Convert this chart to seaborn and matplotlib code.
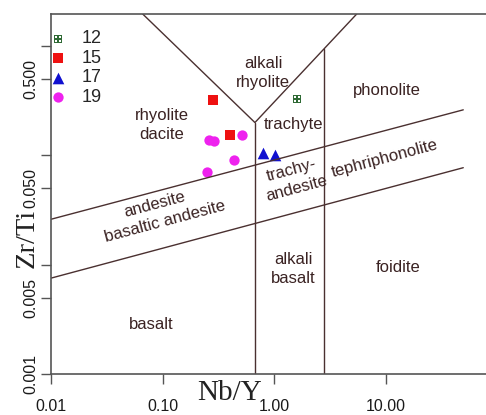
import numpy as np
import pandas as pd
import matplotlib
matplotlib.use("Agg")
import matplotlib.pyplot as plt
import seaborn as sns

# ---- data ----
groups = ["12", "15", "17", "19"]
x_12 = [1.61]
y_12 = [0.324]
x_15 = [0.284, 0.402]
y_15 = [0.318, 0.153]
x_17 = [0.798, 1.01]
y_17 = [0.106, 0.1007]
x_19 = [0.259, 0.289, 0.509, 0.438, 0.248]
y_19 = [0.138, 0.136, 0.152, 0.0897, 0.0703]

# field boundaries
upper_x = [0.01, 49.0]
upper_y = [0.026, 0.26]
lower_x = [0.01, 49.0]
lower_y = [0.00754, 0.077]
v_x = [0.0665, 0.671, 5.46]
v_y = [1.95, 0.199, 1.95]
vl_x = [0.671, 0.671]
vl_y = [0.001, 0.199]
vr_x = [2.8, 2.8]
vr_y = [0.001, 0.942]

field_names = ["alkali\nrhyolite", "phonolite", "trachyte", "rhyolite\ndacite",
               "trachy-\nandesite", "tephriphonolite", "andesite", "basaltic andesite",
               "alkali\nbasalt", "foidite", "basalt"]
field_x = [0.793, 10.1, 1.48, 0.099, 1.50, 9.77, 0.0857, 0.105, 1.48, 12.9, 0.080]
field_y = [0.565, 0.389, 0.193, 0.189, 0.0608, 0.094, 0.0352, 0.0248, 0.00917, 0.00942, 0.00282]
field_rot = [0, 0, 0, 0, 15, 15, 15, 15, 0, 0, 0]

xticks = [0.01, 0.1, 1.0, 10.0]
xticklabels = ["0.01", "0.10", "1.00", "10.00"]
yticks = [0.001, 0.005, 0.05, 0.5]
yticklabels = ["0.001", "0.005", "0.050", "0.500"]
yminor = [0.01, 0.1, 1.0]

# ---- figure ----
sns.set_style("white")
plt.rcParams["font.family"] = ["Liberation Sans", "DejaVu Sans"]

W, H = 486, 415
fig = plt.figure(figsize=(W / 100, H / 100), dpi=100)
left = 50.7 / W
bottom = 1 - 374.3 / H
top = 1 - 14 / H
ax = fig.add_axes([left, bottom, 1 - left, top - bottom])
ax.set_xscale("log")
ax.set_yscale("log")
ax.set_xlim(0.01, 10 ** (-2 + (W - 50.7) / 111.8))
ax.set_ylim(0.001, 1.95)

line_c = "#4a3030"
text_c = "#3a2222"
for xs, ys in [(upper_x, upper_y), (lower_x, lower_y), (v_x, v_y), (vl_x, vl_y), (vr_x, vr_y)]:
    sns.lineplot(x=xs, y=ys, ax=ax, color=line_c, lw=1.0, sort=False, estimator=None)

for name, fx, fy, r in zip(field_names, field_x, field_y, field_rot):
    ax.text(fx, fy, name, ha="center", va="center", rotation=r, rotation_mode="anchor",
            fontsize=12, color=text_c, linespacing=1.35)

series = [
    ("12", x_12, y_12, r"$\boxplus$", "#2f6a35", 40),
    ("15", x_15, y_15, "s", "#ee1111", 45),
    ("17", x_17, y_17, "^", "#1010d0", 70),
    ("19", x_19, y_19, "o", "#ee22ee", 55),
]
for lab, xs, ys, m, c, s in series:
    sns.scatterplot(x=xs, y=ys, ax=ax, marker=m, color=c, s=s, linewidth=0, label=lab)

leg = ax.legend(loc="upper left", bbox_to_anchor=(-0.037, 0.99), frameon=False,
                fontsize=13, labelspacing=0.14, handletextpad=0.7, borderaxespad=0.3,
                handlelength=1.2)

# spines and ticks
ax.spines["right"].set_visible(False)
for sp in ["left", "bottom", "top"]:
    ax.spines[sp].set_color("#555555")
    ax.spines[sp].set_linewidth(1.2)

ax.set_xticks(xticks, labels=xticklabels)
ax.set_xticks([], minor=True)
ax.set_yticks(yticks, labels=yticklabels)
ax.set_yticks(yminor, minor=True)
ax.yaxis.set_minor_formatter(matplotlib.ticker.NullFormatter())
ax.tick_params(axis="both", which="both", direction="out", length=7.2, width=1.0,
               color="#555555", labelsize=11.5, labelcolor="#1a1a1a",
               bottom=True, left=True, top=False, right=False)
ax.tick_params(axis="x", pad=10.8)
ax.tick_params(axis="y", pad=1.8)
for t in ax.get_yticklabels():
    t.set_rotation(90)
    t.set_va("center")

fig.text(230 / W, 1 - 393 / H, "Nb/Y", ha="center", va="center",
         fontsize=21, family="Liberation Serif", color="#222222")
fig.text(27.5 / W, 1 - 238 / H, "Zr/Ti", ha="center", va="center", rotation=90,
         fontsize=20.5, family="Liberation Serif", color="#222222")

fig.savefig("out.png", dpi=100)
